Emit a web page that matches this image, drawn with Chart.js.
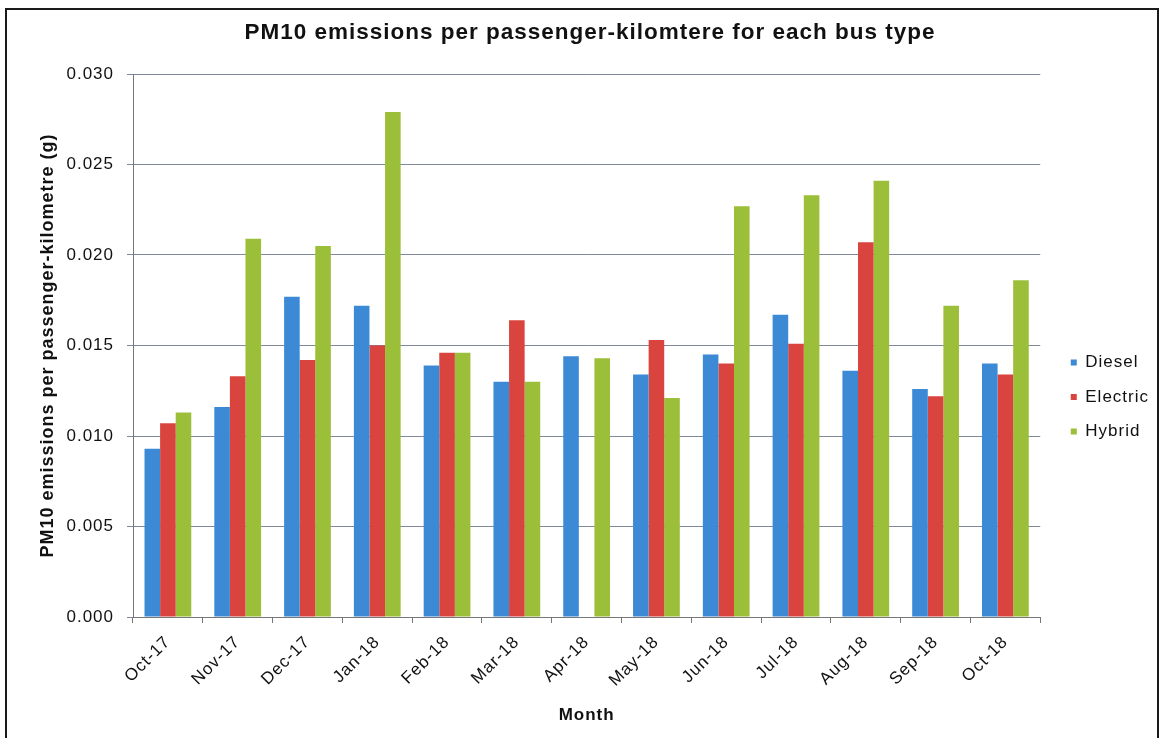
<!DOCTYPE html>
<html>
<head>
<meta charset="utf-8">
<script src="https://cdn.jsdelivr.net/npm/chart.js@4.4.1/dist/chart.umd.min.js"></script>
<style>
  html, body { margin: 0; padding: 0; background: #ffffff; }
  #wrap { position: relative; width: 1162px; height: 738px; overflow: hidden; }
  #frame { position: absolute; left: 5px; top: 8px; width: 1154px; height: 740px; border: 2px solid #1a1a1a; box-sizing: border-box; pointer-events: none; }
  canvas { position: absolute; left: 0; top: 0; }
</style>
</head>
<body>
<div id="wrap">
  <canvas id="chart" width="1162" height="738"></canvas>
  <div id="frame"></div>
</div>
<script>
// Monthly PM10 emissions per passenger-kilometre (g), by bus type
const months = ['Oct-17', 'Nov-17', 'Dec-17', 'Jan-18', 'Feb-18', 'Mar-18', 'Apr-18',
                'May-18', 'Jun-18', 'Jul-18', 'Aug-18', 'Sep-18', 'Oct-18'];
const diesel   = [0.0093, 0.0116, 0.0177, 0.0172, 0.0139, 0.0130, 0.0144, 0.0134, 0.0145, 0.0167, 0.0136, 0.0126, 0.0140];
const electric = [0.0107, 0.0133, 0.0142, 0.0150, 0.0146, 0.0164, null,   0.0153, 0.0140, 0.0151, 0.0207, 0.0122, 0.0134];
const hybrid   = [0.0113, 0.0209, 0.0205, 0.0279, 0.0146, 0.0130, 0.0143, 0.0121, 0.0227, 0.0233, 0.0241, 0.0172, 0.0186];
const yTicks   = [0.000, 0.005, 0.010, 0.015, 0.020, 0.025, 0.030];

const FONT = "'Liberation Sans', Arial, sans-serif";
const colors = { diesel: '#3c8ad6', electric: '#d9443f', hybrid: '#9cbf3a' };

// Slightly tracked-out lettering for every label on the canvas
const spacedText = {
  id: 'spacedText',
  beforeUpdate(chart) { chart.ctx.letterSpacing = '1px'; },
  beforeDraw(chart) { chart.ctx.letterSpacing = '1px'; }
};

// Move the legend a little away from the plot and down towards the middle rows
const legendOffset = {
  id: 'legendOffset',
  afterLayout(chart) {
    const lg = chart.legend;
    if (!lg) return;
    lg.left += 13; lg.right += 13;
    lg.top += 28; lg.bottom += 28;
  }
};

const ctx = document.getElementById('chart').getContext('2d');
new Chart(ctx, {
  type: 'bar',
  data: {
    labels: months,
    datasets: [
      { label: 'Diesel',   data: diesel,   backgroundColor: colors.diesel },
      { label: 'Electric', data: electric, backgroundColor: colors.electric },
      { label: 'Hybrid',   data: hybrid,   backgroundColor: colors.hybrid }
    ]
  },
  plugins: [spacedText, legendOffset],
  options: {
    responsive: false,
    animation: false,
    devicePixelRatio: 1,
    layout: { padding: { left: 34, right: 16, top: 0, bottom: 0 } },
    datasets: { bar: { categoryPercentage: 0.67, barPercentage: 1.0 } },
    plugins: {
      title: {
        display: true,
        text: 'PM10 emissions per passenger-kilomtere for each bus type',
        color: '#111',
        font: { family: FONT, size: 22.5, weight: 'bold' },
        padding: { top: 19.5, bottom: 27.5 }
      },
      legend: {
        position: 'right',
        align: 'center',
        labels: {
          color: '#111',
          font: { family: FONT, size: 17 },
          boxWidth: 6,
          boxHeight: 6,
          padding: 17.5
        }
      },
      tooltip: { enabled: false }
    },
    scales: {
      x: {
        grid: { drawOnChartArea: false, color: '#777', tickLength: 6, offset: true },
        border: { color: '#777', width: 1 },
        ticks: {
          color: '#111',
          font: { family: FONT, size: 17 },
          minRotation: 45, maxRotation: 45,
          padding: 9
        },
        title: {
          display: true,
          text: 'Month',
          color: '#111',
          font: { family: FONT, size: 17, weight: 'bold' },
          padding: { top: 0, bottom: 12 }
        },
        afterFit: (scale) => { scale.height = 121; }
      },
      y: {
        min: 0,
        max: 0.03,
        grid: { color: '#7f8999', lineWidth: 1, tickLength: 6 },
        border: { color: '#777', width: 1 },
        afterBuildTicks: (scale) => { scale.ticks = yTicks.map(v => ({ value: v })); },
        ticks: {
          color: '#111',
          font: { family: FONT, size: 17 },
          padding: 13,
          callback: (v) => Number(v).toFixed(3)
        },
        title: {
          display: true,
          text: 'PM10 emissions per passenger-kilometre (g)',
          color: '#111',
          font: { family: FONT, size: 18, weight: 'bold' },
          padding: { top: 3, bottom: 4 }
        },
        afterFit: (scale) => { scale.width = 99; }
      }
    }
  }
});
</script>
</body>
</html>
